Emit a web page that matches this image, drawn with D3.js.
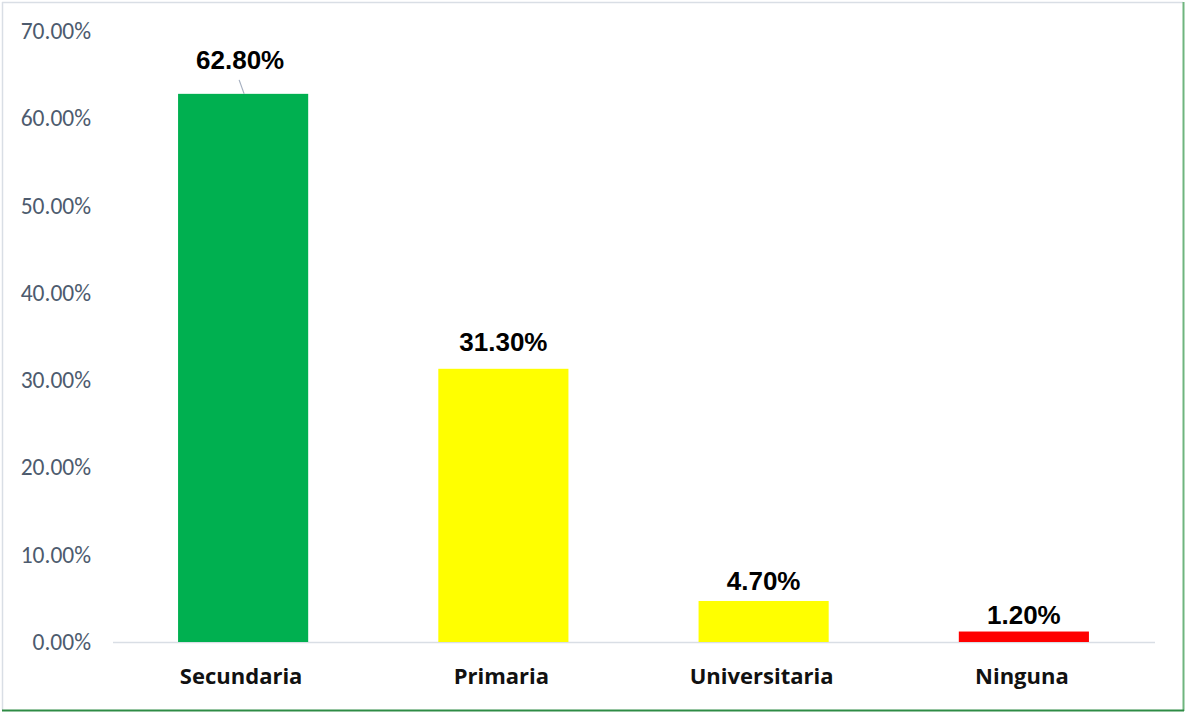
<!DOCTYPE html>
<html><head><meta charset="utf-8">
<script src="https://cdn.jsdelivr.net/npm/d3@7"></script>
<style>
html,body{margin:0;padding:0;background:#fff;}
svg{display:block;}
</style></head>
<body>
<svg id="chart" width="1185" height="712"></svg>
<script>
const categories = ["Secundaria", "Primaria", "Universitaria", "Ninguna"];
const values = [62.8, 31.3, 4.7, 1.2];
const barColors = ["#00b050", "#ffff00", "#ffff00", "#ff0000"];
const tickValues = [0, 10, 20, 30, 40, 50, 60, 70];
const labelTexts = ["62.80%", "31.30%", "4.70%", "1.20%"];

const svg = d3.select("#chart");
const W = 1185, H = 712;

// frame
svg.append("rect").attr("x", 0).attr("y", 0).attr("width", W).attr("height", H).attr("fill", "#fff");
svg.append("line").attr("x1", 2.5).attr("y1", 2).attr("x2", 2.5).attr("y2", 710).attr("stroke", "#d9dee5").attr("stroke-width", 1.5);
svg.append("line").attr("x1", 2).attr("y1", 2.5).attr("x2", 1183).attr("y2", 2.5).attr("stroke", "#d9dee5").attr("stroke-width", 1.5);
svg.append("line").attr("x1", 1183.5).attr("y1", 2).attr("x2", 1183.5).attr("y2", 711).attr("stroke", "#6fb57e").attr("stroke-width", 2);
svg.append("line").attr("x1", 2).attr("y1", 710.5).attr("x2", 1184).attr("y2", 710.5).attr("stroke", "#2e8b45").attr("stroke-width", 2);

const plot = {left: 113, right: 1154, top: 31, bottom: 642};
const x = d3.scaleBand().domain(categories).range([plot.left, plot.right]).paddingInner(0.5).paddingOuter(0.25);
const y = d3.scaleLinear().domain([0, 70]).range([plot.bottom, plot.top]);

// y axis labels
const yAxis = d3.axisLeft(y).tickValues(tickValues).tickFormat(d => d.toFixed(2) + "%").tickSize(0).tickPadding(22);
const gy = svg.append("g").attr("transform", `translate(${plot.left},0)`).call(yAxis);
gy.select(".domain").remove();
gy.selectAll("text").attr("font-family", "Carlito, Lato, 'Open Sans', sans-serif")
  .attr("font-size", 23.5).attr("fill", "#4d5b6e");

// baseline
svg.append("line").attr("x1", plot.left).attr("x2", plot.right + 1).attr("y1", y(0) + 0.5).attr("y2", y(0) + 0.5)
  .attr("stroke", "#d9dee5").attr("stroke-width", 1.5);

// bars
svg.selectAll("rect.bar").data(categories).join("rect").attr("class", "bar")
  .attr("x", d => x(d)).attr("width", x.bandwidth())
  .attr("y", (d, i) => y(values[i])).attr("height", (d, i) => y(0) - y(values[i]))
  .attr("fill", (d, i) => barColors[i]);

// x axis labels
const xAxis = d3.axisBottom(x).tickSize(0).tickPadding(0);
const gx = svg.append("g").attr("transform", `translate(0,${plot.bottom})`).call(xAxis);
gx.select(".domain").remove();
gx.selectAll("text").attr("dy", null).attr("y", 42).attr("dx", -2)
  .attr("font-family", "'Open Sans', 'Noto Sans', sans-serif").attr("font-weight", "bold")
  .attr("font-size", 22).attr("fill", "#111");

// data labels: gap between text baseline and bar top, as placed in the reference
const labelGap = [25, 18, 11, 8];
const labelShift = [-3, 0, 0, 0];
svg.selectAll("text.lbl").data(categories).join("text").attr("class", "lbl")
  .attr("x", (d, i) => x(d) + x.bandwidth() / 2 + labelShift[i])
  .attr("y", (d, i) => y(values[i]) - labelGap[i])
  .attr("text-anchor", "middle")
  .attr("font-family", "'Liberation Sans', Arial, sans-serif").attr("font-weight", "bold")
  .attr("font-size", 26).attr("fill", "#000")
  .text((d, i) => labelTexts[i]);

// leader line for first label
const c0 = x(categories[0]) + x.bandwidth() / 2;
svg.append("line").attr("x1", c0 - 4).attr("y1", y(values[0]) - 14).attr("x2", c0 + 1).attr("y2", y(values[0]))
  .attr("stroke", "#a6b0c0").attr("stroke-width", 1.2);
</script>
</body></html>
